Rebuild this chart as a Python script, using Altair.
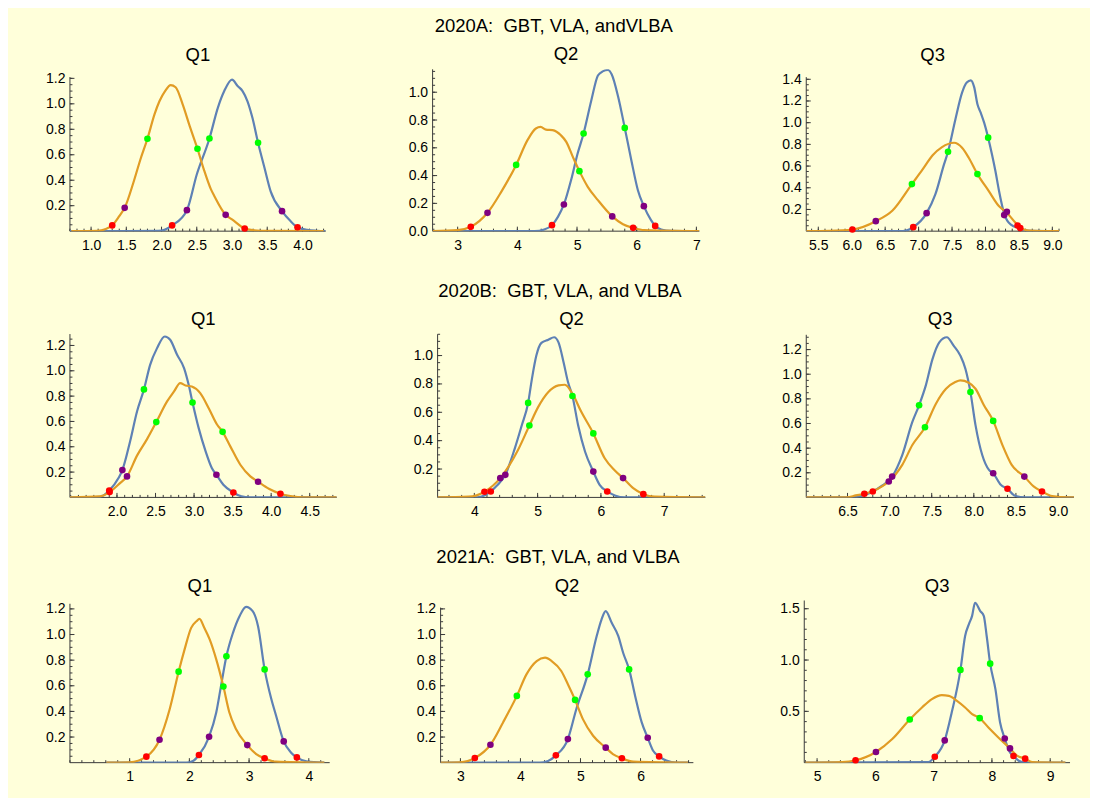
import altair as alt
import numpy as np
import pandas as pd

# ---------------- 2020A ----------------
A1_blue_x = [0.70, 1.50, 1.95, 2.05, 2.15, 2.36, 2.50, 2.68, 2.80, 2.89, 3.00, 3.08, 3.15, 3.22, 3.29, 3.37, 3.46, 3.55, 3.71, 3.83, 3.93, 4.07, 4.21, 4.33]
A1_blue_y = [0, 0, 0.002, 0.012, 0.045, 0.165, 0.445, 0.728, 0.97, 1.10, 1.19, 1.14, 1.10, 1.02, 0.89, 0.694, 0.50, 0.31, 0.157, 0.079, 0.031, 0.01, 0.003, 0]
A1_orange_x = [0.72, 1.09, 1.20, 1.30, 1.40, 1.477, 1.60, 1.70, 1.80, 1.90, 1.97, 2.05, 2.13, 2.20, 2.30, 2.40, 2.51, 2.60, 2.70, 2.75, 2.91, 3.00, 3.18, 3.30, 3.50, 4.30]
A1_orange_y = [0, 0.003, 0.015, 0.045, 0.118, 0.183, 0.38, 0.563, 0.726, 0.917, 1.02, 1.10, 1.147, 1.13, 0.996, 0.825, 0.647, 0.485, 0.33, 0.275, 0.128, 0.092, 0.021, 0.008, 0.002, 0]
A1_blue_pts_x = [2.15, 2.36, 2.68, 3.37, 3.71, 3.93]
A1_blue_pts_y = [0.045, 0.165, 0.728, 0.694, 0.157, 0.031]
A1_orange_pts_x = [1.30, 1.477, 1.80, 2.51, 2.91, 3.18]
A1_orange_pts_y = [0.045, 0.183, 0.726, 0.647, 0.128, 0.021]
A1_xticks = [1.0, 1.5, 2.0, 2.5, 3.0, 3.5, 4.0]
A1_yticks = [0.2, 0.4, 0.6, 0.8, 1.0, 1.2]

A2_blue_x = [2.58, 4.29, 4.45, 4.58, 4.68, 4.78, 4.90, 5.01, 5.11, 5.24, 5.35, 5.43, 5.52, 5.58, 5.69, 5.80, 5.91, 6.02, 6.12, 6.24, 6.31, 6.41, 6.58, 7.05]
A2_blue_y = [0, 0, 0.012, 0.043, 0.103, 0.192, 0.367, 0.559, 0.703, 0.942, 1.12, 1.15, 1.16, 1.13, 0.966, 0.743, 0.511, 0.295, 0.180, 0.079, 0.038, 0.012, 0.002, 0]
A2_orange_x = [2.58, 3.0, 3.22, 3.50, 3.73, 3.98, 4.17, 4.31, 4.39, 4.48, 4.59, 4.73, 4.82, 4.93, 5.04, 5.18, 5.35, 5.59, 5.77, 5.94, 6.13, 7.05]
A2_orange_y = [0, 0.007, 0.031, 0.132, 0.283, 0.477, 0.655, 0.739, 0.75, 0.731, 0.727, 0.69, 0.643, 0.535, 0.432, 0.319, 0.223, 0.106, 0.05, 0.024, 0.007, 0]
A2_blue_pts_x = [4.58, 4.78, 5.11, 5.80, 6.12, 6.31]
A2_blue_pts_y = [0.043, 0.192, 0.703, 0.743, 0.180, 0.038]
A2_orange_pts_x = [3.22, 3.50, 3.98, 5.04, 5.59, 5.94]
A2_orange_pts_y = [0.031, 0.132, 0.477, 0.432, 0.106, 0.024]
A2_xticks = [3, 4, 5, 6, 7]
A2_yticks = [0.0, 0.2, 0.4, 0.6, 0.8, 1.0]

A3_blue_x = [5.32, 6.76, 6.92, 7.12, 7.25, 7.38, 7.44, 7.55, 7.65, 7.72, 7.78, 7.83, 7.88, 7.93, 7.98, 8.04, 8.10, 8.15, 8.20, 8.28, 8.38, 8.52, 8.60, 9.10]
A3_blue_y = [0, 0, 0.037, 0.166, 0.338, 0.615, 0.732, 1.03, 1.277, 1.37, 1.39, 1.33, 1.17, 1.09, 1.0, 0.862, 0.70, 0.55, 0.38, 0.16, 0.06, 0.025, 0.005, 0]
A3_orange_x = [5.32, 5.66, 6.01, 6.36, 6.61, 6.90, 7.06, 7.21, 7.35, 7.53, 7.65, 7.75, 7.88, 8.05, 8.20, 8.32, 8.45, 8.55, 8.65, 9.10]
A3_orange_y = [0, 0.003, 0.015, 0.092, 0.19, 0.434, 0.569, 0.70, 0.775, 0.815, 0.769, 0.677, 0.526, 0.369, 0.231, 0.17, 0.077, 0.022, 0.006, 0]
A3_blue_pts_x = [6.92, 7.12, 7.44, 8.04, 8.28, 8.52]
A3_blue_pts_y = [0.037, 0.166, 0.732, 0.862, 0.148, 0.028]
A3_orange_pts_x = [6.01, 6.36, 6.90, 7.88, 8.32, 8.48]
A3_orange_pts_y = [0.015, 0.092, 0.434, 0.526, 0.178, 0.052]
A3_xticks = [5.5, 6.0, 6.5, 7.0, 7.5, 8.0, 8.5, 9.0]
A3_yticks = [0.2, 0.4, 0.6, 0.8, 1.0, 1.2, 1.4]

# ---------------- 2020B ----------------
B1_blue_x = [1.39, 1.78, 1.90, 2.02, 2.07, 2.17, 2.26, 2.35, 2.43, 2.52, 2.62, 2.69, 2.78, 2.87, 2.93, 2.98, 3.06, 3.15, 3.23, 3.29, 3.38, 3.51, 3.60, 3.73, 4.85]
B1_blue_y = [0, 0.005, 0.055, 0.153, 0.216, 0.442, 0.679, 0.853, 1.047, 1.179, 1.271, 1.245, 1.126, 1.021, 0.889, 0.75, 0.547, 0.363, 0.232, 0.179, 0.10, 0.039, 0.011, 0, 0]
B1_orange_x = [1.39, 1.78, 1.905, 2.04, 2.13, 2.26, 2.39, 2.51, 2.65, 2.74, 2.82, 2.89, 2.97, 3.08, 3.19, 3.30, 3.37, 3.47, 3.60, 3.73, 3.83, 3.97, 4.12, 4.25, 4.42, 4.85]
B1_orange_y = [0, 0.008, 0.042, 0.113, 0.166, 0.33, 0.46, 0.595, 0.758, 0.837, 0.903, 0.884, 0.876, 0.824, 0.705, 0.574, 0.518, 0.403, 0.258, 0.166, 0.124, 0.068, 0.029, 0.011, 0, 0]
B1_blue_pts_x = [1.90, 2.07, 2.35, 2.98, 3.29, 3.51]
B1_blue_pts_y = [0.055, 0.216, 0.853, 0.75, 0.179, 0.039]
B1_orange_pts_x = [1.905, 2.13, 2.51, 3.37, 3.83, 4.12]
B1_orange_pts_y = [0.042, 0.166, 0.595, 0.518, 0.124, 0.029]
B1_xticks = [2.0, 2.5, 3.0, 3.5, 4.0, 4.5]
B1_yticks = [0.2, 0.4, 0.6, 0.8, 1.0, 1.2]

B2_blue_x = [3.42, 4.05, 4.26, 4.35, 4.49, 4.64, 4.75, 4.85, 4.91, 4.98, 5.06, 5.17, 5.26, 5.33, 5.41, 5.48, 5.55, 5.64, 5.75, 5.88, 5.98, 6.10, 6.22, 6.38, 7.65]
B2_blue_y = [0, 0, 0.042, 0.08, 0.159, 0.346, 0.509, 0.666, 0.836, 1.0, 1.089, 1.112, 1.129, 1.093, 0.953, 0.813, 0.715, 0.509, 0.322, 0.182, 0.089, 0.042, 0.014, 0, 0]
B2_orange_x = [3.42, 3.91, 4.16, 4.41, 4.54, 4.69, 4.87, 5.01, 5.17, 5.33, 5.43, 5.55, 5.69, 5.88, 6.06, 6.22, 6.35, 6.51, 6.67, 6.85, 7.65]
B2_orange_y = [0, 0.005, 0.04, 0.136, 0.217, 0.334, 0.507, 0.638, 0.743, 0.79, 0.794, 0.731, 0.603, 0.451, 0.276, 0.19, 0.136, 0.065, 0.023, 0.005, 0]
B2_blue_pts_x = [4.26, 4.49, 4.85, 5.55, 5.88, 6.10]
B2_blue_pts_y = [0.042, 0.159, 0.666, 0.715, 0.182, 0.042]
B2_orange_pts_x = [4.16, 4.41, 4.87, 5.88, 6.35, 6.67]
B2_orange_pts_y = [0.04, 0.136, 0.507, 0.451, 0.136, 0.023]
B2_xticks = [4, 5, 6, 7]
B2_yticks = [0.2, 0.4, 0.6, 0.8, 1.0]

B3_blue_x = [6.01, 6.54, 6.70, 6.80, 6.91, 7.03, 7.15, 7.27, 7.35, 7.43, 7.51, 7.59, 7.68, 7.76, 7.84, 7.90, 7.96, 8.02, 8.10, 8.18, 8.23, 8.32, 8.40, 8.49, 8.61, 9.19]
B3_blue_y = [0, 0, 0.02, 0.048, 0.095, 0.169, 0.344, 0.613, 0.748, 0.909, 1.125, 1.259, 1.30, 1.232, 1.151, 1.044, 0.855, 0.587, 0.344, 0.223, 0.196, 0.102, 0.07, 0.013, 0, 0]
B3_orange_x = [6.01, 6.49, 6.60, 6.70, 6.80, 6.91, 6.99, 7.15, 7.27, 7.42, 7.55, 7.67, 7.78, 7.84, 7.94, 8.02, 8.12, 8.23, 8.34, 8.45, 8.60, 8.71, 8.81, 8.93, 9.13, 9.19]
B3_orange_y = [0, 0, 0.016, 0.03, 0.05, 0.089, 0.129, 0.264, 0.425, 0.57, 0.761, 0.882, 0.936, 0.95, 0.931, 0.882, 0.748, 0.621, 0.425, 0.264, 0.169, 0.089, 0.048, 0.011, 0, 0]
B3_blue_pts_x = [6.80, 7.03, 7.35, 7.96, 8.23, 8.40]
B3_blue_pts_y = [0.048, 0.169, 0.748, 0.855, 0.196, 0.07]
B3_orange_pts_x = [6.70, 6.99, 7.42, 8.23, 8.60, 8.81]
B3_orange_pts_y = [0.03, 0.129, 0.57, 0.621, 0.169, 0.048]
B3_xticks = [6.5, 7.0, 7.5, 8.0, 8.5, 9.0]
B3_yticks = [0.2, 0.4, 0.6, 0.8, 1.0, 1.2]

# ---------------- 2021A ----------------
C1_blue_x = [0.61, 1.95, 2.06, 2.16, 2.33, 2.45, 2.53, 2.62, 2.73, 2.84, 2.95, 3.06, 3.15, 3.26, 3.37, 3.45, 3.58, 3.70, 3.80, 3.96, 4.26]
C1_blue_y = [0, 0, 0.013, 0.06, 0.202, 0.391, 0.599, 0.83, 1.013, 1.143, 1.216, 1.182, 1.065, 0.728, 0.50, 0.37, 0.166, 0.08, 0.041, 0.01, 0]
C1_orange_x = [0.61, 1.0, 1.28, 1.50, 1.67, 1.82, 1.92, 2.03, 2.12, 2.17, 2.25, 2.34, 2.45, 2.57, 2.67, 2.78, 2.97, 3.12, 3.26, 3.45, 4.26]
C1_orange_y = [0, 0.003, 0.047, 0.179, 0.417, 0.71, 0.884, 1.052, 1.104, 1.122, 1.052, 0.962, 0.806, 0.594, 0.391, 0.262, 0.137, 0.067, 0.034, 0.008, 0]
C1_blue_pts_x = [2.16, 2.33, 2.62, 3.26, 3.58, 3.80]
C1_blue_pts_y = [0.06, 0.202, 0.83, 0.728, 0.166, 0.041]
C1_orange_pts_x = [1.28, 1.50, 1.82, 2.57, 2.97, 3.26]
C1_orange_pts_y = [0.047, 0.179, 0.71, 0.594, 0.137, 0.034]
C1_xticks = [1, 2, 3, 4]
C1_yticks = [0.2, 0.4, 0.6, 0.8, 1.0, 1.2]

C2_blue_x = [2.67, 4.32, 4.46, 4.59, 4.79, 4.93, 5.12, 5.27, 5.35, 5.42, 5.52, 5.63, 5.71, 5.81, 5.91, 6.02, 6.12, 6.21, 6.31, 6.43, 6.60, 6.79]
C2_blue_y = [0, 0, 0.013, 0.057, 0.184, 0.417, 0.689, 0.988, 1.117, 1.182, 1.091, 0.988, 0.858, 0.728, 0.521, 0.314, 0.194, 0.093, 0.049, 0.016, 0, 0]
C2_orange_x = [2.67, 2.99, 3.24, 3.50, 3.71, 3.94, 4.10, 4.27, 4.41, 4.52, 4.68, 4.79, 4.91, 5.04, 5.21, 5.42, 5.54, 5.69, 5.88, 6.79]
C2_orange_y = [0, 0.003, 0.036, 0.14, 0.314, 0.521, 0.689, 0.793, 0.819, 0.793, 0.715, 0.612, 0.49, 0.34, 0.21, 0.117, 0.067, 0.034, 0.008, 0]
C2_blue_pts_x = [4.59, 4.79, 5.12, 5.81, 6.12, 6.31]
C2_blue_pts_y = [0.057, 0.184, 0.689, 0.728, 0.194, 0.049]
C2_orange_pts_x = [3.24, 3.50, 3.94, 4.91, 5.42, 5.69]
C2_orange_pts_y = [0.036, 0.14, 0.521, 0.49, 0.117, 0.034]
C2_xticks = [3, 4, 5, 6]
C2_yticks = [0.2, 0.4, 0.6, 0.8, 1.0, 1.2]

C3_blue_x = [4.80, 6.91, 7.02, 7.19, 7.31, 7.46, 7.54, 7.61, 7.66, 7.71, 7.80, 7.86, 7.91, 7.97, 8.06, 8.14, 8.22, 8.31, 8.37, 8.46, 8.57, 9.26]
C3_blue_y = [0, 0.006, 0.058, 0.217, 0.489, 0.904, 1.234, 1.357, 1.43, 1.558, 1.477, 1.43, 1.234, 0.965, 0.716, 0.392, 0.236, 0.1, 0.065, 0.019, 0, 0]
C3_orange_x = [4.80, 5.43, 5.66, 6.01, 6.29, 6.59, 6.80, 6.97, 7.14, 7.26, 7.40, 7.54, 7.66, 7.79, 7.94, 8.11, 8.29, 8.43, 8.57, 8.69, 9.26]
C3_orange_y = [0, 0.006, 0.023, 0.104, 0.23, 0.421, 0.538, 0.619, 0.658, 0.651, 0.603, 0.538, 0.473, 0.434, 0.343, 0.246, 0.149, 0.068, 0.039, 0.006, 0]
C3_blue_pts_x = [7.02, 7.19, 7.46, 7.97, 8.22, 8.37]
C3_blue_pts_y = [0.058, 0.217, 0.904, 0.965, 0.236, 0.065]
C3_orange_pts_x = [5.66, 6.01, 6.59, 7.79, 8.31, 8.57]
C3_orange_pts_y = [0.023, 0.104, 0.421, 0.434, 0.139, 0.039]
C3_xticks = [5, 6, 7, 8, 9]
C3_yticks = [0.5, 1.0, 1.5]

ROW_TITLES = ["2020A:\u00a0 GBT, VLA, andVLBA",
              "2020B:\u00a0 GBT, VLA, and VLBA",
              "2021A:\u00a0 GBT, VLA, and VLBA"]
PANEL_TITLES = ["Q1", "Q2", "Q3"]
POINT_KIND = ["outer", "middle", "inner", "inner", "middle", "outer"]

# ---------------- styles ----------------
FONT = "Liberation Sans"
BG = "#FFFFDA"
BLUE = "#5E81B5"
ORANGE = "#E19C24"
AXC = "#3a3a3a"
KIND_COLORS = ["#FF0000", "#800080", "#00FF00"]


def P(bx, by, ox, oy, bpx, bpy, opx, opy, xt, yt, xdom, ydom, ytop,
      xminor, yminor, xfmt, width):
    return dict(bx=bx, by=by, ox=ox, oy=oy, bpx=bpx, bpy=bpy, opx=opx, opy=opy,
                xt=xt, yt=yt, xdom=xdom, ydom=ydom, ytop=ytop,
                xminor=xminor, yminor=yminor, xfmt=xfmt, width=width)


ROWS = [
    dict(height=162, spacing=107, panels=[
        P(A1_blue_x, A1_blue_y, A1_orange_x, A1_orange_y, A1_blue_pts_x, A1_blue_pts_y,
          A1_orange_pts_x, A1_orange_pts_y, A1_xticks, A1_yticks, [0.70, 4.33], 1.271, 1.21,
          0.1, 0.05, ".1f", 256),
        P(A2_blue_x, A2_blue_y, A2_orange_x, A2_orange_y, A2_blue_pts_x, A2_blue_pts_y,
          A2_orange_pts_x, A2_orange_pts_y, A2_xticks, A2_yticks, [2.58, 7.05], 1.165, 1.165,
          0.2, 0.05, ".0f", 267),
        P(A3_blue_x, A3_blue_y, A3_orange_x, A3_orange_y, A3_blue_pts_x, A3_blue_pts_y,
          A3_orange_pts_x, A3_orange_pts_y, A3_xticks, A3_yticks, [5.32, 9.10], 1.492, 1.42,
          0.1, 0.05, ".1f", 253),
    ]),
    dict(height=164, spacing=101, panels=[
        P(B1_blue_x, B1_blue_y, B1_orange_x, B1_orange_y, B1_blue_pts_x, B1_blue_pts_y,
          B1_orange_pts_x, B1_orange_pts_y, B1_xticks, B1_yticks, [1.39, 4.85], 1.294, 1.29,
          0.1, 0.05, ".1f", 267),
        P(B2_blue_x, B2_blue_y, B2_orange_x, B2_orange_y, B2_blue_pts_x, B2_blue_pts_y,
          B2_orange_pts_x, B2_orange_pts_y, B2_xticks, B2_yticks, [3.42, 7.65], 1.155, 1.15,
          0.2, 0.05, ".0f", 268),
        P(B3_blue_x, B3_blue_y, B3_orange_x, B3_orange_y, B3_blue_pts_x, B3_blue_pts_y,
          B3_orange_pts_x, B3_orange_pts_y, B3_xticks, B3_yticks, [6.01, 9.19], 1.330, 1.32,
          0.1, 0.05, ".1f", 268),
    ]),
    dict(height=162, spacing=111, panels=[
        P(C1_blue_x, C1_blue_y, C1_orange_x, C1_orange_y, C1_blue_pts_x, C1_blue_pts_y,
          C1_orange_pts_x, C1_orange_pts_y, C1_xticks, C1_yticks, [0.0, 4.35], 1.263, 1.24,
          0.2, 0.05, ".0f", 260),
        P(C2_blue_x, C2_blue_y, C2_orange_x, C2_orange_y, C2_blue_pts_x, C2_blue_pts_y,
          C2_orange_pts_x, C2_orange_pts_y, C2_xticks, C2_yticks, [2.67, 6.88], 1.263, 1.21,
          0.2, 0.05, ".0f", 253),
        P(C3_blue_x, C3_blue_y, C3_orange_x, C3_orange_y, C3_blue_pts_x, C3_blue_pts_y,
          C3_orange_pts_x, C3_orange_pts_y, C3_xticks, C3_yticks, [4.78, 9.34], 1.577, 1.58,
          0.2, 0.1, ".0f", 266),
    ]),
]


def minor_ticks(lo, hi, step):
    k0 = int(np.ceil(lo / step - 1e-9))
    k1 = int(np.floor(hi / step + 1e-9))
    return [round(k * step, 4) for k in range(k0, k1 + 1)]


def make_panel(p, height, title):
    xmin, xmax = p["xdom"]
    xs = alt.Scale(domain=p["xdom"], nice=False, zero=False)
    ys = alt.Scale(domain=[0, p["ydom"]], nice=False, zero=False)
    one = pd.DataFrame({"k": [0]})

    xa = alt.Axis(values=p["xt"], format=p["xfmt"], title=None, domain=False,
                  ticks=False, tickSize=0, grid=False, labelFontSize=14,
                  labelPadding=7, labelFont=FONT, labelColor="black",
                  labelFlush=False, labelOverlap=False)
    ya = alt.Axis(values=p["yt"], format=".1f", title=None, domain=False,
                  ticks=False, tickSize=0, grid=False, labelFontSize=14,
                  labelPadding=5, labelFont=FONT, labelColor="black",
                  labelFlush=False, labelOverlap=False)

    def X(field=None, datum=None):
        if field is not None:
            return alt.X(field, scale=xs, axis=xa)
        return alt.X(datum=datum, type="quantitative", scale=xs, axis=xa)

    def Y(field=None, datum=None):
        if field is not None:
            return alt.Y(field, scale=ys, axis=ya)
        return alt.Y(datum=datum, type="quantitative", scale=ys, axis=ya)

    # axis lines
    xline = alt.Chart(one).mark_rule(color=AXC, strokeWidth=1).encode(
        x=X(datum=xmin), x2=alt.X2(datum=xmax), y=Y(datum=0))
    yline = alt.Chart(one).mark_rule(color=AXC, strokeWidth=1).encode(
        x=X(datum=xmin), y=Y(datum=0), y2=alt.Y2(datum=p["ytop"]))

    # ticks (inward, Mathematica style)
    xminor_t = minor_ticks(xmin, xmax, p["xminor"])
    yminor_t = [t for t in minor_ticks(0, p["ytop"], p["yminor"]) if t > 0]

    def xt_layer(vals, length):
        return alt.Chart(pd.DataFrame({"t": vals})).mark_rule(
            color=AXC, strokeWidth=1, y2Offset=-length).encode(
            x=X("t:Q"), y=Y(datum=0), y2=alt.Y2(datum=0))

    def yt_layer(vals, length):
        return alt.Chart(pd.DataFrame({"t": vals})).mark_rule(
            color=AXC, strokeWidth=1, x2Offset=length).encode(
            y=Y("t:Q"), x=X(datum=xmin), x2=alt.X2(datum=xmin))

    blue = alt.Chart(pd.DataFrame({"x": p["bx"], "y": p["by"]})).mark_line(
        color=BLUE, strokeWidth=2.2, interpolate="monotone", clip=True).encode(
        x=X("x:Q"), y=Y("y:Q"))
    orange = alt.Chart(pd.DataFrame({"x": p["ox"], "y": p["oy"]})).mark_line(
        color=ORANGE, strokeWidth=2.2, interpolate="monotone", clip=True).encode(
        x=X("x:Q"), y=Y("y:Q"))

    pts = pd.DataFrame({"x": p["bpx"] + p["opx"], "y": p["bpy"] + p["opy"],
                        "kind": POINT_KIND * 2})
    points = alt.Chart(pts).mark_circle(size=44, opacity=1).encode(
        x=X("x:Q"), y=Y("y:Q"),
        color=alt.Color("kind:N", scale=alt.Scale(domain=["outer", "middle", "inner"],
                                                  range=KIND_COLORS), legend=None))

    layers = [xline, yline,
              xt_layer(xminor_t, 2.5), xt_layer(p["xt"], 4.5),
              yt_layer(yminor_t, 2.5), yt_layer([t for t in p["yt"] if t > 0], 4.5),
              blue, orange, points]
    return alt.layer(*layers).properties(
        width=p["width"], height=height,
        title=alt.TitleParams(title, fontSize=18.5, fontWeight="normal", font=FONT,
                              color="black", anchor="middle", frame="group", offset=5))


rows = []
for r, row in enumerate(ROWS):
    panels = [make_panel(p, row["height"], PANEL_TITLES[c]) for c, p in enumerate(row["panels"])]
    rows.append(alt.hconcat(*panels, spacing=row["spacing"], bounds="flush",
                            title=alt.TitleParams(ROW_TITLES[r], fontSize=18.5, fontWeight="normal",
                                                  font=FONT, color="black", anchor="middle",
                                                  frame="bounds", offset=10)))

chart = alt.vconcat(*rows, spacing=29.5).properties(
    padding={"left": 37, "top": 8, "right": 15, "bottom": 14}
).configure(background=BG).configure_view(stroke=None)

chart.save("out.html", embed_options={"renderer": "svg", "actions": False})
